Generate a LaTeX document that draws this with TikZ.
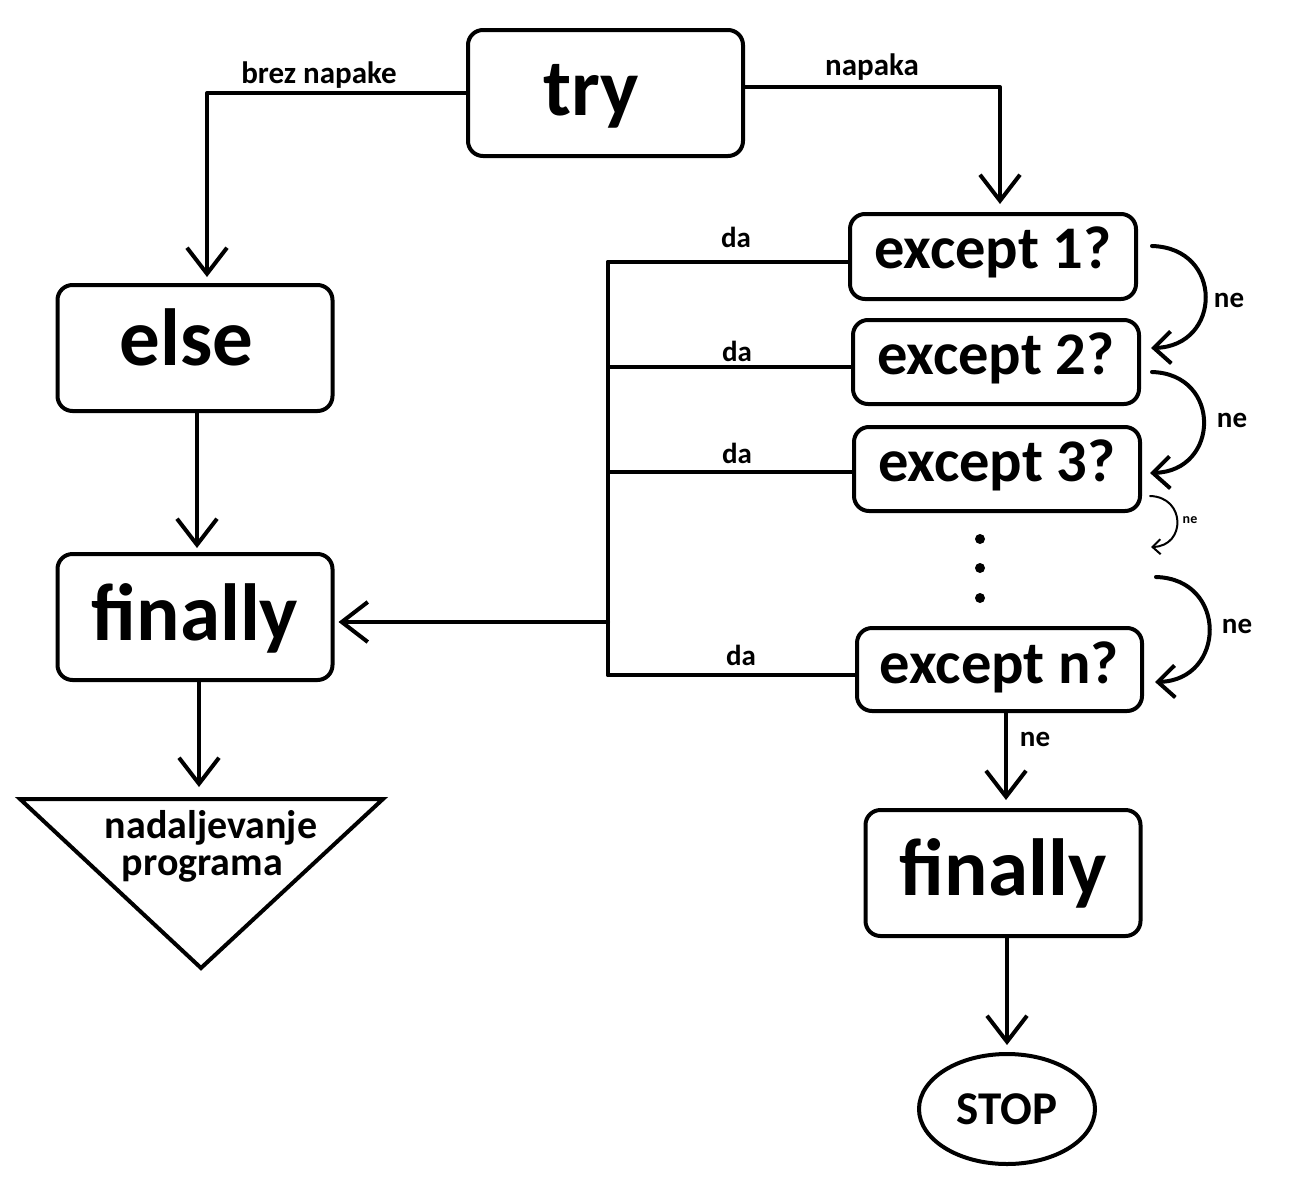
\documentclass[tikz,border=0pt]{standalone}
\usepackage{fontspec}
\setmainfont{Carlito}
\usetikzlibrary{arrows.meta,shapes.geometric,calc}
\tikzset{
  box/.style={draw,line width=4pt,rounded corners=15pt,inner sep=0pt,font=\bfseries,text depth=0pt},
  bigbox/.style={box,minimum width=275pt,minimum height=126pt,font=\fontsize{81}{83}\selectfont\bfseries},
  exbox/.style={box,minimum width=286pt,minimum height=84pt,text height=24pt,font=\fontsize{60.5}{62}\selectfont\bfseries},
  arr/.style={-{Straight Barb[length=26pt,width=40pt]}},
  carr/.style={-{Straight Barb[length=17pt,width=32pt]}},
  sarr/.style={-{Straight Barb[length=8pt,width=15pt]}},
  lbl/.style={font=\fontsize{29}{31}\selectfont\bfseries,inner sep=0pt},
  slbl/.style={font=\fontsize{14}{15}\selectfont\bfseries,inner sep=0pt},
}
\begin{document}
\begin{tikzpicture}[x=1pt,y=-1pt,line width=4pt,line cap=round,line join=round]
\fill[white] (0,0) rectangle (1304,1197);
\useasboundingbox (0,0) rectangle (1304,1197);
% nodes
\node[bigbox,text height=44pt] (try) at (605.5,93) {try\kern29pt};
\node[bigbox,text height=34pt] (else) at (195,348) {else\kern17pt};
\node[bigbox,text height=46pt] (finL) at (195,617) {finally};
\node[exbox,minimum height=85pt] (e1) at (993,256.5) {except 1?};
\node[exbox] (e2) at (996,362) {except 2?};
\node[exbox] (e3) at (997,469) {except 3?};
\node[exbox,minimum width=285pt,minimum height=83pt,text height=28pt] (en) at (999.5,669.5) {except n?};
\node[bigbox,text height=44pt] (finR) at (1003,873) {finally};
\node[draw,ellipse,line width=4pt,minimum width=176pt,minimum height=110pt,inner sep=0pt,
      font=\fontsize{47}{49}\selectfont\bfseries] (stop) at (1007,1109) {STOP};
% triangle
\draw[line join=miter] (20,799) -- (383,799) -- (201,968) -- cycle;
\node[font=\fontsize{40}{37}\selectfont\bfseries,align=center,inner sep=0pt] (cont) at (211,846)
  {nadaljevanje\\\hspace*{-17pt}programa};
\coordinate (trtop) at (199,787);
% dots
\fill (980,539) circle (5);
\fill (980,568) circle (5);
\fill (980,598) circle (5);
% coordinates
\coordinate (elseIn) at (207,277);
\coordinate (e1In) at (1000,204);
\coordinate (b1) at (608,262);
\coordinate (b2) at (608,367);
\coordinate (b3) at (608,472);
\coordinate (bn) at (608,675);
\coordinate (bMid) at (608,622);
% connectors
\draw[arr] (try.west) -| (elseIn);
\draw[arr] ([yshift=6pt]try.east) -| (e1In);
\node[lbl,font=\fontsize{31}{33}\selectfont\bfseries] at (319,75) {brez napake};
\node[lbl,font=\fontsize{31}{33}\selectfont\bfseries] at (872,67) {napaka};
\draw[arr,shorten >=4pt] ([xshift=2pt]else.south) -- ([xshift=2pt]finL.north);
\draw[arr] (finL.south -| trtop) -- (trtop);
\draw (b1) -- (bn);
\draw (b1) -- (b1 -| e1.west);
\draw (b2) -- (b2 -| e2.west);
\draw (b3) -- (b3 -| e3.west);
\draw (bn) -- (bn -| en.west);
\draw[arr,shorten >=4pt] (bMid) -- (bMid -| finL.east);
\node[lbl] at (736,237) {da};
\node[lbl] at (737,351) {da};
\node[lbl] at (737,453) {da};
\node[lbl] at (741,655) {da};
\draw[arr,shorten >=8pt] ([xshift=6.5pt]en.south) -- ([xshift=3pt]finR.north);
\node[lbl] at (1035,739) {ne};
\draw[arr,shorten >=7pt] (finR.south -| stop.north) -- (stop.north);
% curved "ne" arrows
\coordinate (c1a) at (1152,246); \coordinate (c1b) at (1151,348);
\coordinate (c2a) at (1152,372); \coordinate (c2b) at (1150,473);
\coordinate (c3a) at (1150,496); \coordinate (c3b) at (1151,547);
\coordinate (c4a) at (1156,577); \coordinate (c4b) at (1155,682);
\draw[carr] (c1a) .. controls (1224,248) and (1222,346) .. (c1b);
\draw[carr] (c2a) .. controls (1222,374) and (1220,471) .. (c2b);
\draw[sarr,line width=2pt] (c3a) .. controls (1186,497) and (1186,546) .. (c3b);
\draw[carr] (c4a) .. controls (1228,579) and (1226,680) .. (c4b);
\node[lbl] at (1229,300) {ne};
\node[lbl] at (1232,420) {ne};
\node[slbl] at (1190,520) {ne};
\node[lbl] at (1237,626) {ne};
\end{tikzpicture}
\end{document}
